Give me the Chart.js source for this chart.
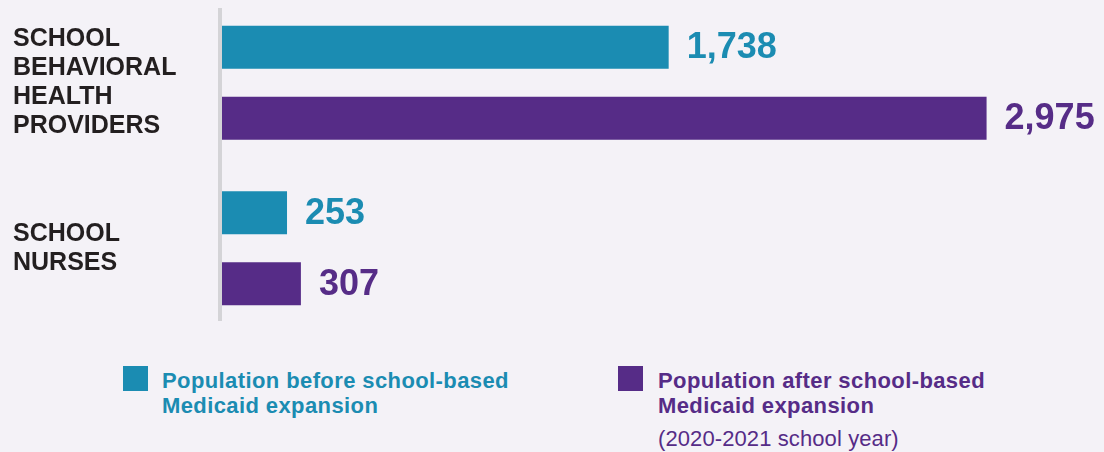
<!DOCTYPE html>
<html>
<head>
<meta charset="utf-8">
<script src="https://cdn.jsdelivr.net/npm/chart.js@4"></script>
<style>
  body { margin: 0; background: #f4f2f7; font-family: "Liberation Sans", Arial, sans-serif; }
  .wrap { position: relative; width: 1104px; height: 452px; }
  .chartBox { position: absolute; left: 0; top: 0; width: 1104px; height: 340px; }
  .sw { position: absolute; width: 25px; height: 25px; }
  .lg { position: absolute; font-size: 22px; line-height: 25px; font-weight: bold; letter-spacing: 0.4px; }
  .note { position: absolute; font-size: 22px; line-height: 25px; letter-spacing: 0.1px; }
</style>
</head>
<body>
<div class="wrap">
  <div class="chartBox"><canvas id="staffChart"></canvas></div>

  <div class="sw" style="left:123px; top:366px; background:#1b8cb2;"></div>
  <div class="lg" id="lgBefore" style="left:162px; top:368px; color:#1b8cb2;"></div>

  <div class="sw" style="left:618px; top:366px; background:#562c87;"></div>
  <div class="lg" id="lgAfter" style="left:658px; top:368px; color:#562c87;"></div>
  <div class="note" id="yearNote" style="left:658px; top:426px; color:#562c87;"></div>
</div>

<script>
/* ===============================
   Data
=============================== */

const categories = [
    ["SCHOOL", "BEHAVIORAL", "HEALTH", "PROVIDERS"],
    ["SCHOOL", "NURSES"]
];

const beforeValues = [1738, 253];

const afterValues = [2975, 307];

const seriesNames = [
    ["Population before school-based", "Medicaid expansion"],
    ["Population after school-based", "Medicaid expansion"]
];

const yearNote = "(2020-2021 school year)";

const TEAL = "#1b8cb2";
const PURPLE = "#562c87";

document.getElementById("lgBefore").innerHTML = seriesNames[0].join("<br>");
document.getElementById("lgAfter").innerHTML = seriesNames[1].join("<br>");
document.getElementById("yearNote").textContent = yearNote;

/* ===============================
   Plugins
=============================== */

// grey vertical axis line
const axisLine = {
    id: "axisLine",
    beforeDatasetsDraw(chart) {
        const ctx = chart.ctx;
        const area = chart.chartArea;
        ctx.save();
        ctx.fillStyle = "#d4d4d7";
        ctx.fillRect(area.left - 4, area.top + 8, 4, area.bottom - area.top - 18);
        ctx.restore();
    }
};

// value labels at the end of each bar
const valueLabels = {
    id: "valueLabels",
    afterDatasetsDraw(chart) {
        const ctx = chart.ctx;
        ctx.save();
        ctx.font = "bold 36px 'Liberation Sans', Arial, sans-serif";
        ctx.textBaseline = "middle";
        ctx.textAlign = "left";
        chart.data.datasets.forEach((ds, di) => {
            const meta = chart.getDatasetMeta(di);
            ctx.fillStyle = ds.backgroundColor;
            meta.data.forEach((bar, i) => {
                ctx.fillText(ds.data[i].toLocaleString("en-US"), bar.x + 18, bar.y + 1);
            });
        });
        ctx.restore();
    }
};

/* ===============================
   Chart
=============================== */

const staffCtx = document.getElementById("staffChart");

new Chart(staffCtx, {

    type: "bar",

    data: {
        labels: categories,
        datasets: [{
            label: seriesNames[0].join(" "),
            data: beforeValues,
            backgroundColor: TEAL,
            borderWidth: 0,
            barPercentage: 0.606,
            categoryPercentage: 0.858
        }, {
            label: seriesNames[1].join(" "),
            data: afterValues,
            backgroundColor: PURPLE,
            borderWidth: 0,
            barPercentage: 0.606,
            categoryPercentage: 0.858
        }]
    },

    options: {
        indexAxis: "y",
        responsive: true,
        maintainAspectRatio: false,
        animation: false,
        layout: {
            padding: { left: 13, right: 111, top: 0, bottom: 9 }
        },
        plugins: {
            legend: { display: false },
            tooltip: { enabled: false }
        },
        scales: {
            x: {
                display: false,
                min: 0,
                max: 3000
            },
            y: {
                grid: { display: false },
                border: { display: false },
                afterFit(scale) {
                    scale.width = 209;
                    scale.paddingTop = 0;
                    scale.paddingBottom = 0;
                },
                ticks: {
                    crossAlign: "far",
                    color: "#231f20",
                    font: {
                        family: "'Liberation Sans', Arial, sans-serif",
                        size: 25,
                        weight: "bold",
                        lineHeight: 1.16
                    }
                }
            }
        }
    },

    plugins: [axisLine, valueLabels]

});
</script>
</body>
</html>
